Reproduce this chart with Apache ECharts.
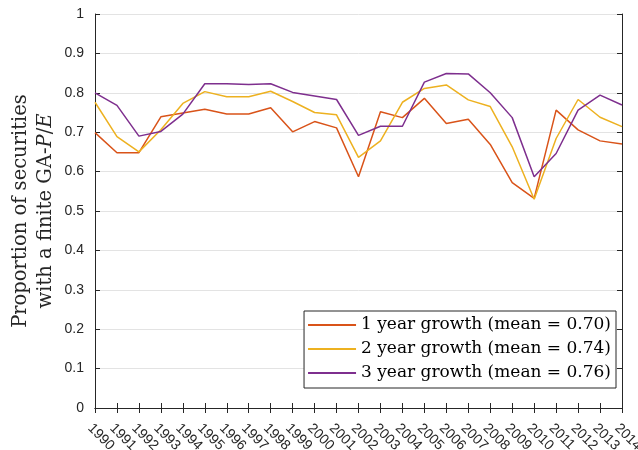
<!DOCTYPE html>
<html>
<head>
<meta charset="utf-8">
<script src="https://cdn.jsdelivr.net/npm/echarts@6/dist/echarts.min.js"></script>
<style>
  html, body { margin: 0; padding: 0; background: #fff; }
  #chart { width: 638px; height: 450px; }
</style>
</head>
<body>
<div id="chart"></div>
<script>
var years = [];
for (var y = 1990; y <= 2014; y++) years.push(String(y));

var growth1 = [0.699, 0.648, 0.648, 0.739, 0.749, 0.758, 0.746, 0.746, 0.762, 0.701,
  0.727, 0.711, 0.587, 0.752, 0.737, 0.786, 0.722, 0.733, 0.669, 0.572,
  0.532, 0.756, 0.706, 0.678, 0.670];
var growth2 = [0.776, 0.689, 0.650, 0.706, 0.773, 0.803, 0.790, 0.790, 0.804, 0.778,
  0.750, 0.744, 0.636, 0.678, 0.776, 0.811, 0.820, 0.782, 0.765, 0.663,
  0.530, 0.684, 0.783, 0.738, 0.714];
var growth3 = [0.800, 0.768, 0.690, 0.702, 0.746, 0.823, 0.823, 0.821, 0.823, 0.801,
  0.792, 0.783, 0.692, 0.715, 0.715, 0.827, 0.849, 0.848, 0.800, 0.737,
  0.587, 0.646, 0.756, 0.794, 0.769];

var names = ['1 year growth (mean = 0.70)', '2 year growth (mean = 0.74)', '3 year growth (mean = 0.76)'];
var colors = ['#D95319', '#EDB120', '#7E2F8E'];

var axisColor = '#262626';
var tickFont = { fontFamily: 'Liberation Sans', fontSize: 14, color: axisColor };

var myChart = echarts.init(document.getElementById('chart'));
var option = {
  animation: false,
  backgroundColor: '#fff',
  grid: { left: 95, right: 16, top: 14, bottom: 42, containLabel: false, outerBoundsMode: 'none' },
  legend: {
    data: names,
    orient: 'vertical',
    right: 22,
    bottom: 62,
    itemWidth: 48,
    itemHeight: 2,
    itemGap: 4,
    padding: [4, 5, 5, 4],
    backgroundColor: '#fff',
    borderColor: axisColor,
    borderWidth: 1,
    icon: 'rect',
    textStyle: { fontFamily: 'DejaVu Serif', fontSize: 17, lineHeight: 20, color: '#000' }
  },
  xAxis: [{
    type: 'category',
    data: years,
    boundaryGap: false,
    axisLine: { lineStyle: { color: axisColor } },
    axisTick: { inside: true, length: 5, interval: 0, lineStyle: { color: axisColor } },
    axisLabel: Object.assign({ interval: 0, rotate: -45, margin: 13, verticalAlign: 'top' }, tickFont),
    splitLine: { show: false }
  }, {
    type: 'category',
    data: years,
    position: 'top',
    boundaryGap: false,
    axisLine: { lineStyle: { color: axisColor } },
    axisTick: { inside: true, length: 5, interval: 0, lineStyle: { color: axisColor } },
    axisLabel: { show: false },
    splitLine: { show: false }
  }],
  yAxis: [{
    type: 'value',
    min: 0,
    max: 1,
    interval: 0.1,
    name: 'Proportion of securities\nwith a finite GA-{i|P}/{i|E}',
    nameLocation: 'middle',
    nameGap: 37,
    nameMoveOverlap: false,
    nameTextStyle: {
      fontFamily: 'DejaVu Serif',
      fontSize: 19.5,
      color: '#262626',
      lineHeight: 25,
      rich: { i: { fontFamily: 'DejaVu Serif', fontStyle: 'italic', fontSize: 19.5, color: '#262626' } }
    },
    axisLine: { show: true, lineStyle: { color: axisColor } },
    axisTick: { show: true, inside: true, length: 5, lineStyle: { color: axisColor } },
    axisLabel: Object.assign({ margin: 11, formatter: function (v) { return String(+v.toFixed(1)); } }, tickFont),
    splitLine: { show: true, lineStyle: { color: '#e3e3e3', width: 1 } }
  }, {
    type: 'value',
    min: 0,
    max: 1,
    interval: 0.1,
    position: 'right',
    axisLine: { show: true, lineStyle: { color: axisColor } },
    axisTick: { show: true, inside: true, length: 5, lineStyle: { color: axisColor } },
    axisLabel: { show: false },
    splitLine: { show: false }
  }],
  series: [{
    name: names[0],
    type: 'line',
    data: growth1,
    showSymbol: false,
    color: colors[0],
    lineStyle: { width: 1.5 }
  }, {
    name: names[1],
    type: 'line',
    data: growth2,
    showSymbol: false,
    color: colors[1],
    lineStyle: { width: 1.5 }
  }, {
    name: names[2],
    type: 'line',
    data: growth3,
    showSymbol: false,
    color: colors[2],
    lineStyle: { width: 1.5 }
  }]
};
myChart.setOption(option);
</script>
</body>
</html>
